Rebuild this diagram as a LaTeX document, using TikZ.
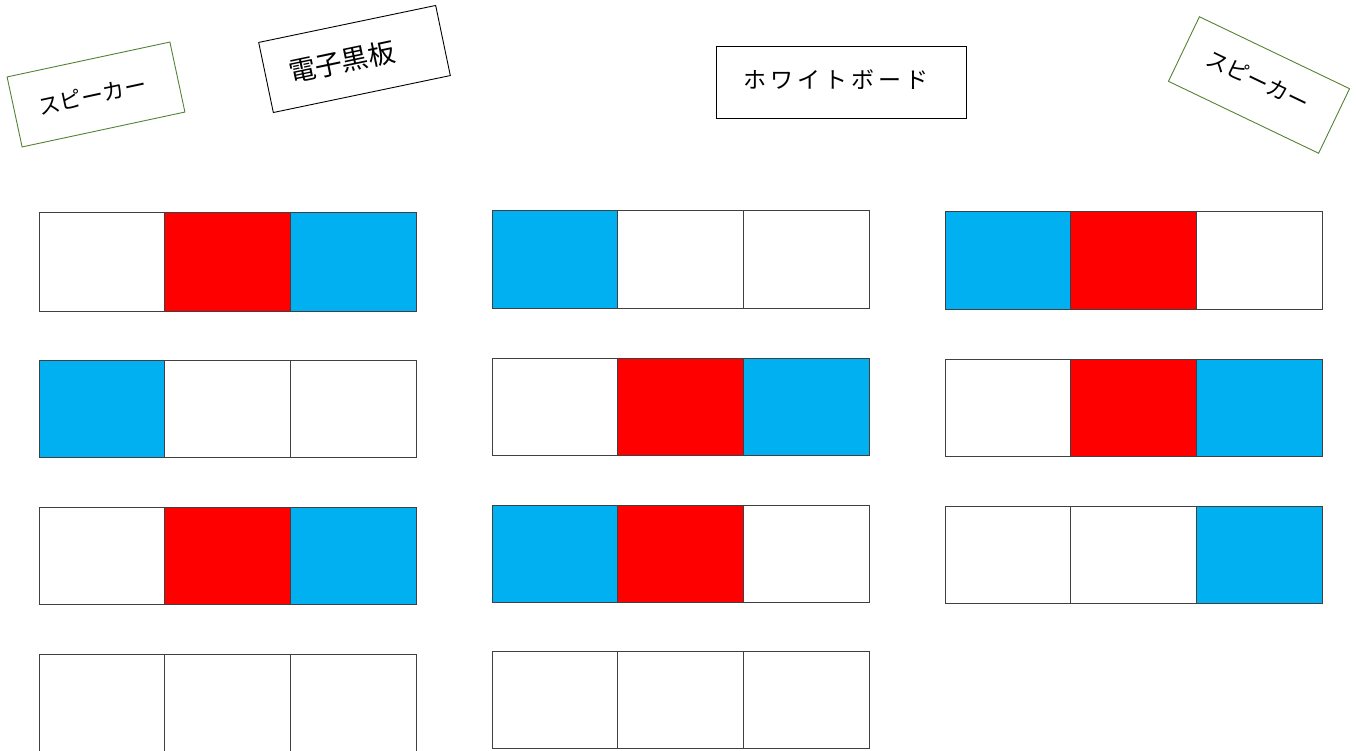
\documentclass[tikz,border=0pt]{standalone}
\usepackage{fontspec}
\newfontfamily\jp{Noto Sans CJK JP}
\newfontfamily\jpwide[LetterSpace=18]{Noto Sans CJK JP}
\definecolor{cblue}{HTML}{00B0F0}
\definecolor{cred}{HTML}{FF0000}
\definecolor{spk}{HTML}{548235}
\begin{document}
\begin{tikzpicture}[x=1pt,y=-1pt,
  cell/.style={draw=black!75, line width=1pt},
  spkbox/.style={draw=spk, line width=0.9pt, minimum width=166.5pt, minimum height=71.6pt, inner sep=0pt},
  boardbox/.style={draw=black, line width=0.9pt, inner sep=0pt},
  lbl/.style={inner sep=0pt, font=\jp}]
\useasboundingbox (0,0) rectangle (1356,751);

% tables
\foreach \x/\y/\h/\a/\b/\c in {
39/213/98/white/cred/cblue,
39/360/97/cblue/white/white,
39/507/97/white/cred/cblue,
39/654/97/white/white/white,
492/211/97/cblue/white/white,
492/358/97/white/cred/cblue,
492/505/97/cblue/cred/white,
492/651/97/white/white/white,
945/212/97.5/cblue/cred/white,
945/359/97/white/cred/cblue,
945/506/97/white/white/cblue}
{
  \draw[cell, fill=\a] (\x,\y) rectangle ++(125.67,\h);
  \draw[cell, fill=\b] (\x+125.67,\y) rectangle ++(125.67,\h);
  \draw[cell, fill=\c] (\x+251.33,\y) rectangle ++(125.67,\h);
}

% left speaker
\begin{scope}[shift={(96,94.5)}, rotate=12.1, transform shape]
  \node[spkbox] (spkL) at (0,0) {};
  \node[lbl, font=\jp\fontsize{22}{26}\selectfont] (spkLt) at (-4,0) {スピーカー};
\end{scope}

% electronic blackboard
\begin{scope}[shift={(354.5,59)}, rotate=11.8, transform shape]
  \node[boardbox, minimum width=180.8pt, minimum height=71.6pt] (ebb) at (0,0) {};
  \node[lbl, font=\jp\fontsize{27}{32}\selectfont] (ebbt) at (-13,0) {電子黒板};
\end{scope}

% right speaker
\begin{scope}[shift={(1259,85)}, rotate=-25.6, transform shape]
  \node[spkbox] (spkR) at (0,0) {};
  \node[lbl, font=\jp\fontsize{22}{26}\selectfont] (spkRt) at (-3,-4) {スピーカー};
\end{scope}

% whiteboard
\node[boardbox, minimum width=250pt, minimum height=72pt] (wb) at (841,82) {};
\node[lbl, font=\jpwide\fontsize{23}{27}\selectfont] (wbt) at (836,80) {ホワイトボード};
\end{tikzpicture}
\end{document}
